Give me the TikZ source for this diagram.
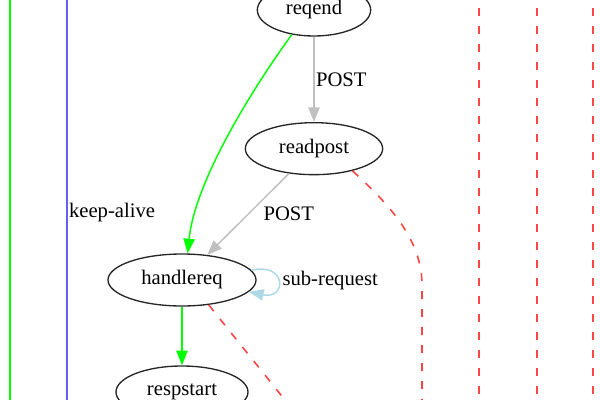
\documentclass[tikz,border=0pt]{standalone}
\usepackage{fontspec}
\setmainfont{Liberation Serif}
\usetikzlibrary{shapes,arrows.meta,positioning}

\definecolor{postgray}{RGB}{192,192,192}
\definecolor{alivegreen}{RGB}{0,255,0}
\definecolor{aliveblue}{RGB}{96,96,255}
\definecolor{abortred}{RGB}{255,70,70}
\definecolor{subblue}{RGB}{173,216,230}

\begin{document}
\begin{tikzpicture}[
    x=0.75pt, y=-0.75pt,
    state/.style={ellipse, draw=black!85, line width=1pt, minimum height=39pt, inner sep=0pt, font=\fontsize{15.5}{18}\selectfont},
    edgelabel/.style={font=\fontsize{15.5}{18}\selectfont, text=black, inner sep=1pt},
    arrow/.style={-{Triangle[length=11pt, width=8.5pt]}, line width=1.1pt},
    loop/.style={aliveblue, line width=2pt},
    abort/.style={abortred, line width=1.2pt, dash pattern=on 6pt off 7.5pt}
]

\clip (0,0) rectangle (600,400);

% States
\node[state, minimum width=85pt] (reqend) at (314,10) {reqend};
\node[state, minimum width=103pt, below=64pt of reqend] (readpost) {readpost};
\node[state, minimum width=111pt] (handlereq) at (182,280) {handlereq};
\node[state, minimum width=99pt, below=44pt of handlereq] (respstart) {respstart};

% Ends outside the picture
\coordinate (greentop) at (10,-10);
\coordinate (greenbot) at (10,410);
\coordinate (bluetop) at (67,-10);
\coordinate (bluebot) at (67,410);
\coordinate (readpostout) at (422,410);
\coordinate (handlereqout) at (293,410);

% Long edges
\draw[alivegreen, line width=1.1pt] (greentop) -- (greenbot);
\draw[loop] (bluetop) -- node[edgelabel, pos=0.529, right, inner sep=0.5pt] {keep-alive} (bluebot);
\foreach \x [count=\i] in {479,537,593} {
    \coordinate (droptop\i) at (\x,-10);
    \coordinate (dropbot\i) at (\x,410);
    \draw[abort] (droptop\i) -- (dropbot\i);
}

% Request flow
\draw[arrow, postgray] (reqend) -- node[edgelabel, right] {POST} (readpost);
\draw[arrow, postgray] (readpost) -- node[edgelabel, right=10pt] {POST} (handlereq);
\draw[arrow, alivegreen] (reqend.228) .. controls (255,85) and (195,180) .. (handlereq.78);
\draw[arrow, alivegreen] (handlereq) -- (respstart);
\draw[arrow, subblue] (handlereq.8) .. controls (287,262) and (287,300) .. node[edgelabel, right=2pt] {sub-request} (handlereq.-10);

% Aborts
\draw[abort] (readpost.-30) .. controls (390,205) and (422,240) .. (422,285) -- (readpostout);
\draw[abort] (handlereq.-43) -- (handlereqout);

\end{tikzpicture}
\end{document}
